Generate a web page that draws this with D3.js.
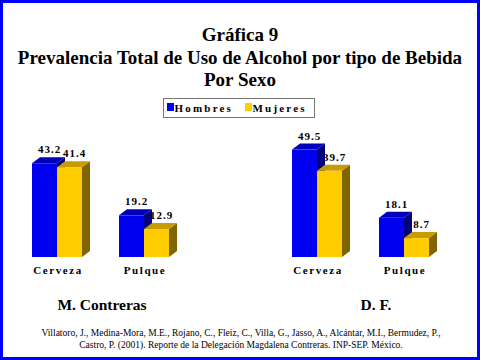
<!DOCTYPE html>
<html><head><meta charset="utf-8">
<script src="https://cdn.jsdelivr.net/npm/d3@7"></script>
<style>html,body{margin:0;padding:0;background:#fff;}svg{display:block;}</style>
</head><body>
<svg id="chart" width="480" height="360"></svg>
<script>
const regions = ["M. Contreras", "D. F."];
const categories = ["Cerveza", "Pulque"];
const seriesNames = ["Hombres", "Mujeres"];
const hombres = [[43.2, 19.2], [49.5, 18.1]]; // per region: [Cerveza, Pulque]
const mujeres = [[41.4, 12.9], [39.7, 8.7]];
const titleLines = ["Gráfica 9", "Prevalencia Total de Uso de Alcohol por tipo de Bebida", "Por Sexo"];
const citation = ["Villatoro, J., Medina-Mora, M.E., Rojano, C., Fleiz, C., Villa, G., Jasso, A., Alcántar, M.I., Bermudez, P.,",
                  "Castro, P. (2001). Reporte de la Delegación Magdalena Contreras. INP-SEP. México."];

const colors = {
  Hombres: {front: "#0000f0", top: "#0000b8", side: "#00007a"},
  Mujeres: {front: "#ffcc00", top: "#c89b00", side: "#7f6400"}
};
const serif = "'Liberation Serif','Times New Roman',serif";
const svg = d3.select("#chart");

svg.append("rect").attr("x", 1.5).attr("y", 1.5).attr("width", 477).attr("height", 357)
  .attr("fill", "#fff").attr("stroke", "#0000ff").attr("stroke-width", 3);

// Title
const tY = [41, 64, 86];
titleLines.forEach((t, i) => {
  svg.append("text").attr("x", 240).attr("y", tY[i]).attr("text-anchor", "middle")
    .attr("font-family", serif).attr("font-weight", "bold").attr("font-size", 19).text(t);
});

// Legend
const lg = svg.append("g");
lg.append("rect").attr("x", 163.5).attr("y", 98.5).attr("width", 151).attr("height", 19)
  .attr("fill", "#fff").attr("stroke", "#777").attr("stroke-width", 1);
const legX = [167, 245];
seriesNames.forEach((s, i) => {
  lg.append("rect").attr("x", legX[i]).attr("y", 103).attr("width", 7).attr("height", 8)
    .attr("fill", colors[s].front);
  lg.append("text").attr("x", legX[i] + 7.5).attr("y", 112).attr("font-family", serif)
    .attr("font-weight", "bold").attr("font-size", 11).attr("letter-spacing", 2.2).text(s);
});

// Scales
const baseY = 257;
const y = d3.scaleLinear().domain([0, 50]).range([baseY, baseY - 108.5]);
const xPanel = d3.scaleBand().domain(regions).range([13.5, 533.5]);
const xCat = d3.scaleBand().domain(categories).range([0, 174]);
const xSer = d3.scaleBand().domain(seriesNames).range([-25, 25]);
const dx = 8, dy = 6;

regions.forEach((r, ri) => {
  const g = svg.append("g").attr("transform", `translate(${xPanel(r)},0)`);
  const bars = [];
  categories.forEach((c, ci) => {
    const cx = xCat(c) + xCat.bandwidth() / 2;
    seriesNames.forEach((s, si) => {
      const v = (si === 0 ? hombres : mujeres)[ri][ci];
      bars.push({c, s, v, x: cx + xSer(s), w: xSer.bandwidth()});
    });
    g.append("text").attr("x", cx + 1).attr("y", 274).attr("text-anchor", "middle")
      .attr("font-family", serif).attr("font-weight", "bold").attr("font-size", 11)
      .attr("letter-spacing", 1.6).text(c);
  });
  bars.forEach(b => {
    g.append("text").attr("x", b.x + b.w / 2 + dx / 2 + 1).attr("y", y(b.v) - dy - 4)
      .attr("text-anchor", "middle").attr("font-family", serif).attr("font-weight", "bold")
      .attr("font-size", 11).attr("letter-spacing", 1).text(b.v.toFixed(1));
  });
  bars.forEach(b => {
    const x0 = b.x, x1 = b.x + b.w, yt = y(b.v), yb = y(0);
    const col = colors[b.s];
    g.append("path").attr("fill", col.side)
      .attr("d", `M${x1},${yt}L${x1 + dx},${yt - dy}L${x1 + dx},${yb - dy}L${x1},${yb}Z`);
    g.append("path").attr("fill", col.top)
      .attr("d", `M${x0},${yt}L${x0 + dx},${yt - dy}L${x1 + dx},${yt - dy}L${x1},${yt}Z`);
    g.append("rect").attr("x", x0).attr("y", yt).attr("width", b.w).attr("height", yb - yt)
      .attr("fill", col.front);
  });
});

// Panel labels
const panelLabelX = [102, 376];
regions.forEach((r, i) => {
  svg.append("text").attr("x", panelLabelX[i]).attr("y", 310).attr("text-anchor", "middle")
    .attr("font-family", serif).attr("font-weight", "bold").attr("font-size", 15.5).text(r);
});

// Citation
citation.forEach((t, i) => {
  svg.append("text").attr("x", 241).attr("y", 336 + i * 12).attr("text-anchor", "middle")
    .attr("font-family", serif).attr("font-size", 9.5).text(t);
});
</script>
</body></html>
